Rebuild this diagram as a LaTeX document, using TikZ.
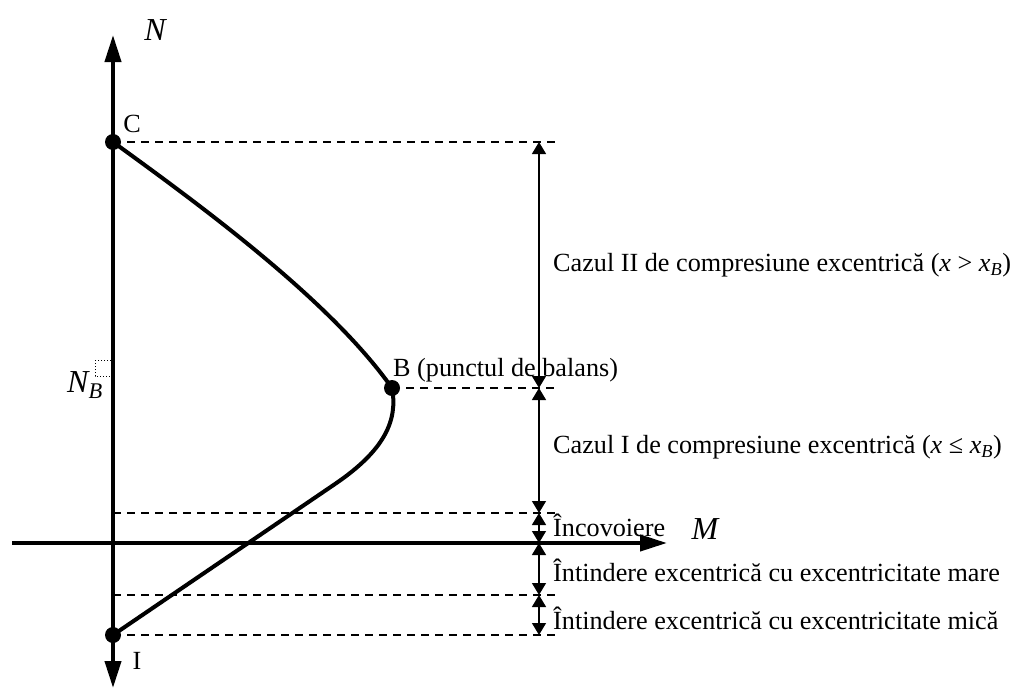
\documentclass[tikz,border=0pt]{standalone}
\usepackage{fontspec}
\setmainfont{Liberation Serif}
\usetikzlibrary{arrows.meta}
\tikzset{
  axisline/.style={line width=4pt,-{Triangle[length=27pt,width=16pt]}},
  curveline/.style={line width=4pt},
  dashline/.style={line width=2pt,dash pattern=on 8pt off 6pt},
  dimline/.style={line width=1.4pt,{Triangle[length=12pt,width=14pt]}-{Triangle[length=12pt,width=14pt]}},
  dotnode/.style={circle,fill=black,inner sep=0pt,minimum size=16pt},
  lbl/.style={anchor=west,inner sep=0pt},
  mathlbl/.style={inner sep=0pt,font=\fontsize{32}{36}\selectfont\itshape}
}
\begin{document}
\begin{tikzpicture}[x=1pt,y=-1pt,font=\fontsize{26.2}{30}\selectfont]
\useasboundingbox (0,0) rectangle (1019,688);
% coordinates
\coordinate (Nbot) at (113,662);
\coordinate (Ntop) at (113,62);
\coordinate (Mleft) at (12,543);
\coordinate (Mright) at (640,543);
\coordinate (a3) at (113,513);
\coordinate (a5) at (113,595);
\coordinate (e1) at (558,142);
\coordinate (e2) at (558,388);
\coordinate (e3) at (558,513);
\coordinate (e5) at (558,595);
\coordinate (e6) at (558,635);
\coordinate (d1) at (539,142);
\coordinate (d2) at (539,388);
\coordinate (d3) at (539,513);
\coordinate (d4) at (539,543);
\coordinate (d5) at (539,595);
\coordinate (d6) at (539,635);
% axes
\draw[axisline] (Nbot) -- ++(0,26);
\draw[axisline] (Nbot) -- (Ntop) -- ++(0,-27);
\draw[axisline] (Mleft) -- (Mright) -- ++(27,0);
\node[mathlbl] (Nlab) at (155,30) {N};
\node[mathlbl] (Mlab) at (705,529) {M};
% points
\node[dotnode] (C) at (113,142) {};
\node[dotnode] (B) at (392,388) {};
\node[dotnode] (I) at (113,635) {};
\node[inner sep=0pt] (Clab) at (132,124) {C};
\node[inner sep=0pt] (Ilab) at (137,661) {I};
\node[lbl] (Blab) at (393,370) {B (punctul de balans)};
\node[mathlbl,anchor=base west] (NB) at (67,392) {N\textsubscript{B}};
\draw[dotted,line width=1pt] (95,360) rectangle (111,376);
% curve
\draw[curveline] (C.center) .. controls (200,205) and (330,300) .. (B.center)
   .. controls (398,420) and (385,450) .. (335,484) -- (I.center);
% dashed lines
\draw[dashline] (C.center) -- (e1);
\draw[dashline] (B.center) -- (e2);
\draw[dashline] (a3) -- (e3);
\draw[dashline] (a5) -- (e5);
\draw[dashline] (I.center) -- (e6);
% dimension arrows
\draw[dimline] (d1) -- (d2);
\draw[dimline] (d2) -- (d3);
\draw[dimline] (d3) -- (d4);
\draw[dimline] (d4) -- (d5);
\draw[dimline] (d5) -- (d6);
% labels
\node[lbl] (L1) at (553,265) {Cazul II de compresiune excentrică (\textit{x} > \textit{x}\textsubscript{\textit{B}})};
\node[lbl] (L2) at (553,447) {Cazul I de compresiune excentrică (\textit{x} ≤ \textit{x}\textsubscript{\textit{B}})};
\node[lbl] (L3) at (553,525) {Încovoiere};
\node[lbl] (L4) at (553,570) {Întindere excentrică cu excentricitate mare};
\node[lbl] (L5) at (553,618) {Întindere excentrică cu excentricitate mică};
\end{tikzpicture}
\end{document}
